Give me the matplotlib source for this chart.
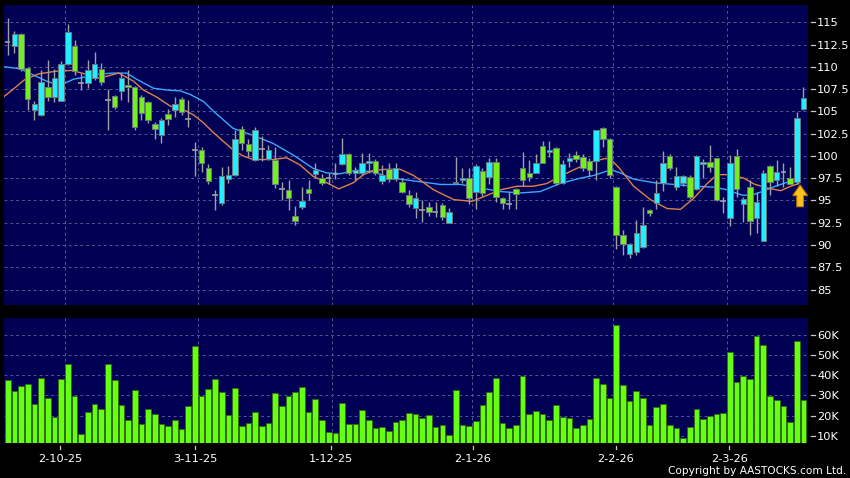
import matplotlib
matplotlib.use("Agg")
import matplotlib.pyplot as plt
from matplotlib.transforms import blended_transform_factory
from matplotlib.patches import FancyArrow
import numpy as np

# ---------------- data ----------------
opens = [112.8, 112.3, 113.7, 109.9, 105.2, 104.6, 107.7, 106.6, 106.2, 110.3,
         112.3, 108.2, 108.2, 108.7, 109.8, 106.3, 106.7, 107.3, 108.0, 107.7,
         106.65, 106.1, 103.55, 102.3, 104.7, 105.2, 106.4, 104.2, 100.65, 100.67,
         98.7, 95.6, 94.7, 97.4, 97.9, 103.0, 101.3, 99.5, 100.8, 99.7,
         99.55, 96.25, 96.2, 93.26, 94.23, 96.25, 97.97, 97.56, 97.5, 98.0,
         99.06, 100.18, 98.05, 98.12, 99.17, 99.43, 97.19, 98.5, 97.37, 97.11,
         95.6, 94.12, 93.9, 94.3, 93.7, 94.5, 92.5, 96.93, 97.3, 97.56,
         95.99, 98.35, 97.67, 99.28, 95.3, 94.6, 96.26, 98.6, 98.05, 98.05,
         101.1, 100.48, 100.9, 96.93, 99.47, 100.1, 99.92, 99.43, 99.47, 103.1,
         101.87, 96.5, 91.13, 88.96, 89.2, 89.8, 93.94, 94.76, 97.0, 100.04,
         96.48, 97.0, 97.68, 96.25, 99.1, 99.36, 99.74, 94.95, 93.0, 100.04,
         94.6, 96.56, 93.0, 90.5, 98.9, 97.3, 98.24, 97.5, 97.1, 105.24]
highs = [115.5, 114.0, 113.8, 110.0, 106.2, 109.6, 110.8, 109.8, 110.6, 114.8,
         113.0, 109.3, 110.8, 111.7, 110.4, 107.5, 106.8, 109.3, 109.7, 107.9,
         106.8, 106.2, 103.85, 104.3, 105.3, 106.6, 106.6, 106.3, 101.6, 101.0,
         99.1, 96.2, 98.8, 98.9, 102.9, 103.4, 101.9, 103.3, 102.2, 101.2,
         101.0, 97.1, 97.3, 94.4, 96.5, 97.3, 99.17, 98.0, 98.05, 99.25,
         102.0, 100.3, 98.8, 100.3, 100.3, 99.6, 99.0, 99.2, 99.2, 97.5,
         96.2, 96.0, 95.0, 94.86, 94.8, 94.7, 94.2, 99.9, 98.6, 98.6,
         99.1, 98.6, 99.75, 99.8, 95.4, 95.9, 96.4, 100.4, 99.5, 100.2,
         101.7, 101.7, 101.0, 99.5, 100.3, 100.5, 100.2, 99.8, 102.9, 103.3,
         102.0, 96.6, 91.7, 90.2, 92.8, 94.3, 94.1, 97.3, 100.5, 100.2,
         98.8, 97.9, 97.9, 100.1, 99.6, 101.2, 99.8, 95.4, 100.1, 100.8,
         95.4, 97.3, 96.0, 98.4, 99.0, 99.5, 99.2, 98.8, 104.9, 107.7]
lows = [111.3, 111.5, 109.5, 105.2, 104.0, 104.5, 106.2, 106.1, 106.2, 110.2,
        109.1, 107.4, 107.6, 108.5, 108.0, 102.9, 105.3, 106.3, 106.1, 102.9,
        104.0, 103.7, 101.9, 101.4, 103.5, 104.4, 104.6, 103.2, 97.7, 98.2,
        96.9, 93.9, 94.5, 97.0, 97.8, 100.7, 99.9, 99.4, 99.4, 99.5,
        96.4, 95.0, 93.9, 92.3, 94.0, 95.1, 97.5, 96.7, 96.9, 97.4,
        98.98, 97.9, 97.3, 97.9, 98.05, 97.9, 96.9, 97.1, 97.2, 95.8,
        94.3, 93.0, 92.6, 93.3, 93.1, 92.8, 92.5, 96.9, 96.93, 94.6,
        94.1, 95.5, 96.9, 94.8, 94.0, 94.1, 94.0, 96.6, 97.2, 98.05,
        99.2, 99.9, 96.7, 96.9, 98.8, 99.35, 98.3, 97.8, 97.3, 101.0,
        97.5, 89.5, 88.9, 88.5, 88.9, 89.7, 93.3, 94.1, 96.1, 98.4,
        96.2, 96.6, 95.2, 96.2, 97.5, 98.2, 94.9, 93.6, 92.1, 95.4,
        92.6, 91.1, 91.3, 90.4, 95.6, 96.6, 96.5, 96.8, 96.9, 105.2]
closes = [112.8, 113.7, 109.8, 106.4, 105.8, 108.3, 106.6, 108.7, 110.3, 113.9,
          109.5, 108.2, 109.7, 110.3, 108.3, 106.3, 105.5, 108.7, 107.7, 103.2,
          104.85, 104.0, 103.0, 104.0, 104.1, 105.8, 104.9, 104.2, 100.65, 99.2,
          97.2, 95.6, 97.7, 97.9, 101.9, 101.4, 100.5, 102.9, 100.8, 100.7,
          96.9, 96.25, 95.25, 92.73, 94.94, 95.8, 98.4, 97.0, 97.5, 98.0,
          100.18, 98.12, 98.42, 99.17, 99.43, 98.05, 97.86, 97.37, 98.6, 95.99,
          94.6, 95.24, 93.9, 93.74, 93.7, 93.1, 93.68, 97.1, 97.53, 95.32,
          98.87, 95.8, 99.28, 95.43, 94.7, 94.6, 95.74, 97.3, 97.67, 99.17,
          99.24, 100.67, 97.0, 99.1, 99.8, 99.6, 98.6, 98.42, 102.9, 101.87,
          97.86, 91.1, 90.08, 90.08, 91.3, 92.3, 93.56, 95.8, 99.17, 98.6,
          97.8, 97.8, 95.43, 100.0, 99.36, 98.8, 95.06, 94.95, 99.17, 96.25,
          95.13, 92.74, 94.87, 98.05, 97.1, 98.16, 98.24, 96.9, 104.3, 106.47]
volume_k = [37.6, 32.2, 34.8, 35.7, 25.6, 38.5, 28.5, 19.3, 38.1, 45.6,
            29.7, 11.0, 21.6, 25.6, 23.1, 45.6, 37.5, 25.2, 17.6, 32.5,
            16.0, 23.3, 20.6, 15.8, 14.8, 17.8, 13.1, 24.7, 54.7, 29.7,
            33.0, 38.3, 31.5, 20.3, 33.8, 14.6, 16.1, 21.6, 15.0, 16.1,
            31.0, 24.7, 29.7, 31.9, 34.0, 21.6, 28.0, 17.6, 11.6, 11.3,
            26.2, 15.8, 16.0, 22.6, 17.8, 13.6, 14.1, 12.2, 16.8, 17.8,
            21.5, 20.6, 19.0, 20.1, 14.3, 15.3, 10.1, 32.5, 15.2, 14.6,
            17.1, 25.1, 31.7, 38.8, 16.1, 13.8, 15.5, 39.8, 20.6, 22.3,
            20.8, 17.9, 25.2, 19.4, 18.7, 14.0, 15.2, 18.3, 38.5, 35.5,
            28.7, 65.0, 35.3, 27.2, 32.2, 28.9, 15.5, 24.4, 25.6, 15.2,
            13.6, 9.0, 14.3, 23.3, 18.3, 19.6, 20.6, 21.3, 51.6, 36.5,
            39.5, 38.1, 59.3, 55.0, 29.9, 27.6, 24.6, 16.8, 57.0, 27.8]

ma_short_x = [-0.5, 1, 2.6, 4.6, 7.1, 9.6, 11.6, 13.1, 14.6, 16.6, 18.8, 20.3, 22.3, 24.3,
              26.3, 27.8, 29.3, 30.8, 32.3, 33.7, 35.2, 36.7, 39.7, 41.7, 43.7, 45.7, 47.7,
              49.5, 51.7, 53.2, 54.7, 56.7, 58.7, 60.7, 63.7, 66.7, 69.4, 71.1, 73.7, 76.2,
              78.6, 80.6, 82.6, 85.1, 87.6, 89.3, 90.1, 91.5, 93.6, 96.1, 98.6, 100.6, 102.6,
              104.6, 106.1, 108.1, 110.1, 111.6, 113.6, 115.6, 117.1, 118.3]
ma_short = [106.7, 107.6, 108.6, 109.2, 109.5, 109.6, 109.2, 108.7, 108.9, 109.3, 108.4, 107.4,
            106.6, 105.6, 105.2, 104.6, 103.7, 102.6, 101.6, 100.7, 100.0, 99.6, 99.6, 99.8,
            99.0, 97.7, 97.0, 96.3, 97.0, 97.9, 98.4, 98.5, 98.5, 97.8, 96.2, 95.1, 94.9,
            95.4, 96.2, 96.6, 96.6, 96.9, 97.7, 98.6, 99.4, 99.7, 99.7, 98.6, 96.6, 95.1,
            94.1, 94.0, 95.25, 96.9, 97.9, 97.9, 97.5, 96.85, 96.4, 96.1, 96.6, 96.9]
ma_long_x = [-0.5, 1.8, 3.8, 5.8, 7.8, 9.8, 11.8, 13.8, 15.8, 17.8, 19.3, 21.8, 23.8, 25.8,
             27.3, 29.3, 30.8, 33.7, 36.7, 39.7, 42.7, 45.7, 47.7, 49.7, 52.2, 54.7, 56.7,
             58.7, 61.7, 64.7, 67.7, 70.7, 73.7, 76.7, 79.6, 82.6, 85.6, 87.6, 89.6, 90.6,
             91.6, 93.6, 96.6, 99.6, 102.6, 105.6, 107.6, 109.8, 111.3, 112.8, 114.8, 116.8,
             118.3]
ma_long = [110.0, 109.8, 109.1, 108.4, 107.9, 108.6, 108.9, 109.2, 109.3, 109.3, 108.6, 107.6,
           107.4, 107.3, 106.9, 106.1, 105.0, 103.1, 102.3, 101.4, 100.1, 98.6, 98.1, 98.0,
           98.4, 98.2, 97.7, 97.4, 97.1, 96.8, 96.8, 96.4, 96.0, 95.85, 96.0, 96.9, 97.5,
           97.8, 98.3, 98.35, 98.1, 97.4, 97.0, 96.8, 96.6, 96.5, 96.2, 95.6, 95.6, 96.0,
           96.6, 97.1, 97.5]

date_labels = ["2-10-25", "3-11-25", "1-12-25", "2-1-26", "2-2-26", "2-3-26"]
date_idx = [8, 28, 48, 69, 90, 107]
price_ticks = [85, 87.5, 90, 92.5, 95, 97.5, 100, 102.5, 105, 107.5, 110, 112.5, 115]
vol_ticks = [10, 20, 30, 40, 50, 60]

# ---------------- styling ----------------
BG = "#000055"
CYAN = "#22eeff"
GREEN = "#74ee1c"
VOLG = "#66ff11"
WICK = "#a0a0a0"
EDGE = "#6a7880"
GRID = "#55558f"
label_shift = [-0.13, 0.06, 0.4, 0.6, 0.9, 0.9]

n = len(closes)
x = np.arange(n)
O, H, L, C = map(np.array, (opens, highs, lows, closes))

fig = plt.figure(figsize=(8.5, 4.78), dpi=100, facecolor="black")
W, Hh = 850, 478
axp = fig.add_axes([4 / W, 1 - 305 / Hh, 804 / W, 300 / Hh], facecolor=BG)
axv = fig.add_axes([4 / W, 1 - 443.3 / Hh, 804 / W, 125 / Hh], facecolor=BG)

xl = (-0.55, 119.68)
for ax in (axp, axv):
    ax.set_xlim(*xl)
    for s in ax.spines.values():
        s.set_visible(False)
    ax.set_axisbelow(True)

# grids
grid_x = [d + 0.5 for d in date_idx]
for ax in (axp, axv):
    for gx in grid_x:
        ax.axvline(gx, color=GRID, lw=0.7, ls=(0, (3, 3)), zorder=0)
for t in price_ticks:
    axp.axhline(t, color=GRID, lw=0.7, ls=(0, (3, 3)), zorder=0)
for t in vol_ticks:
    axv.axhline(t, color=GRID, lw=0.7, ls=(0, (3, 3)), zorder=0)

# moving averages
axp.plot(ma_long_x, ma_long, color="#3aa8ff", lw=1.0, zorder=2)
axp.plot(ma_short_x, ma_short, color="#e0804a", lw=1.0, zorder=2)

# candles
axp.vlines(x, L, H, color=WICK, lw=1.0, zorder=3)
up = C > O
dn = C < O
dj = C == O
axp.bar(x[up], (C - O)[up], bottom=O[up], width=0.82, color=CYAN,
        edgecolor=EDGE, linewidth=0.7, zorder=4)
axp.bar(x[dn], (O - C)[dn], bottom=C[dn], width=0.82, color=GREEN,
        edgecolor=EDGE, linewidth=0.7, zorder=4)
axp.hlines(O[dj], x[dj] - 0.42, x[dj] + 0.42, color=WICK, lw=1.2, zorder=4)

axp.set_ylim(83.27, 116.94)

# signal arrow under the last-but-one bar
ai = n - 2
axp.add_patch(FancyArrow(ai + 0.5, L[ai] - 2.6, 0, 2.45, width=1.0, head_width=2.2,
                         head_length=1.2, length_includes_head=True,
                         facecolor="#ffc21a", edgecolor="#c07a00", lw=0.8, zorder=6))

# volume
axv.bar(x, volume_k, width=0.85, color=VOLG, edgecolor="#2f6a10", linewidth=0.6, zorder=3)
axv.set_ylim(6.2, 68.3)

# right-side tick labels with detached tick marks
for ax, ticks, fmt in ((axp, price_ticks, lambda v: f"{v:g}"),
                       (axv, vol_ticks, lambda v: f"{v:g}K")):
    ax.yaxis.tick_right()
    ax.set_yticks(ticks)
    ax.set_yticklabels([fmt(t) for t in ticks])
    ax.tick_params(axis="y", length=0, pad=6.6, labelsize=8.2, labelcolor="white")
    tr = blended_transform_factory(ax.transAxes, ax.transData)
    for t in ticks:
        ax.plot([1.0037, 1.0087], [t, t], color="#c8c8c8", lw=0.9,
                transform=tr, clip_on=False)

axp.set_xticks([])
lab_pos = [d + s for d, s in zip(date_idx, label_shift)]
axv.set_xticks(lab_pos)
axv.set_xticklabels(date_labels)
axv.tick_params(axis="x", length=0, pad=8.0, labelsize=8.2, labelcolor="white")
trx = blended_transform_factory(axv.transData, axv.transAxes)
for p in lab_pos:
    axv.plot([p, p], [-0.022, -0.045], color="#c8c8c8", lw=0.9, transform=trx, clip_on=False)

fig.text(846 / W, 1 - 471.5 / Hh, "Copyright by AASTOCKS.com Ltd.", color="white",
         fontsize=7.6, ha="right", va="center")

fig.savefig("out.png", dpi=100, facecolor="black")
